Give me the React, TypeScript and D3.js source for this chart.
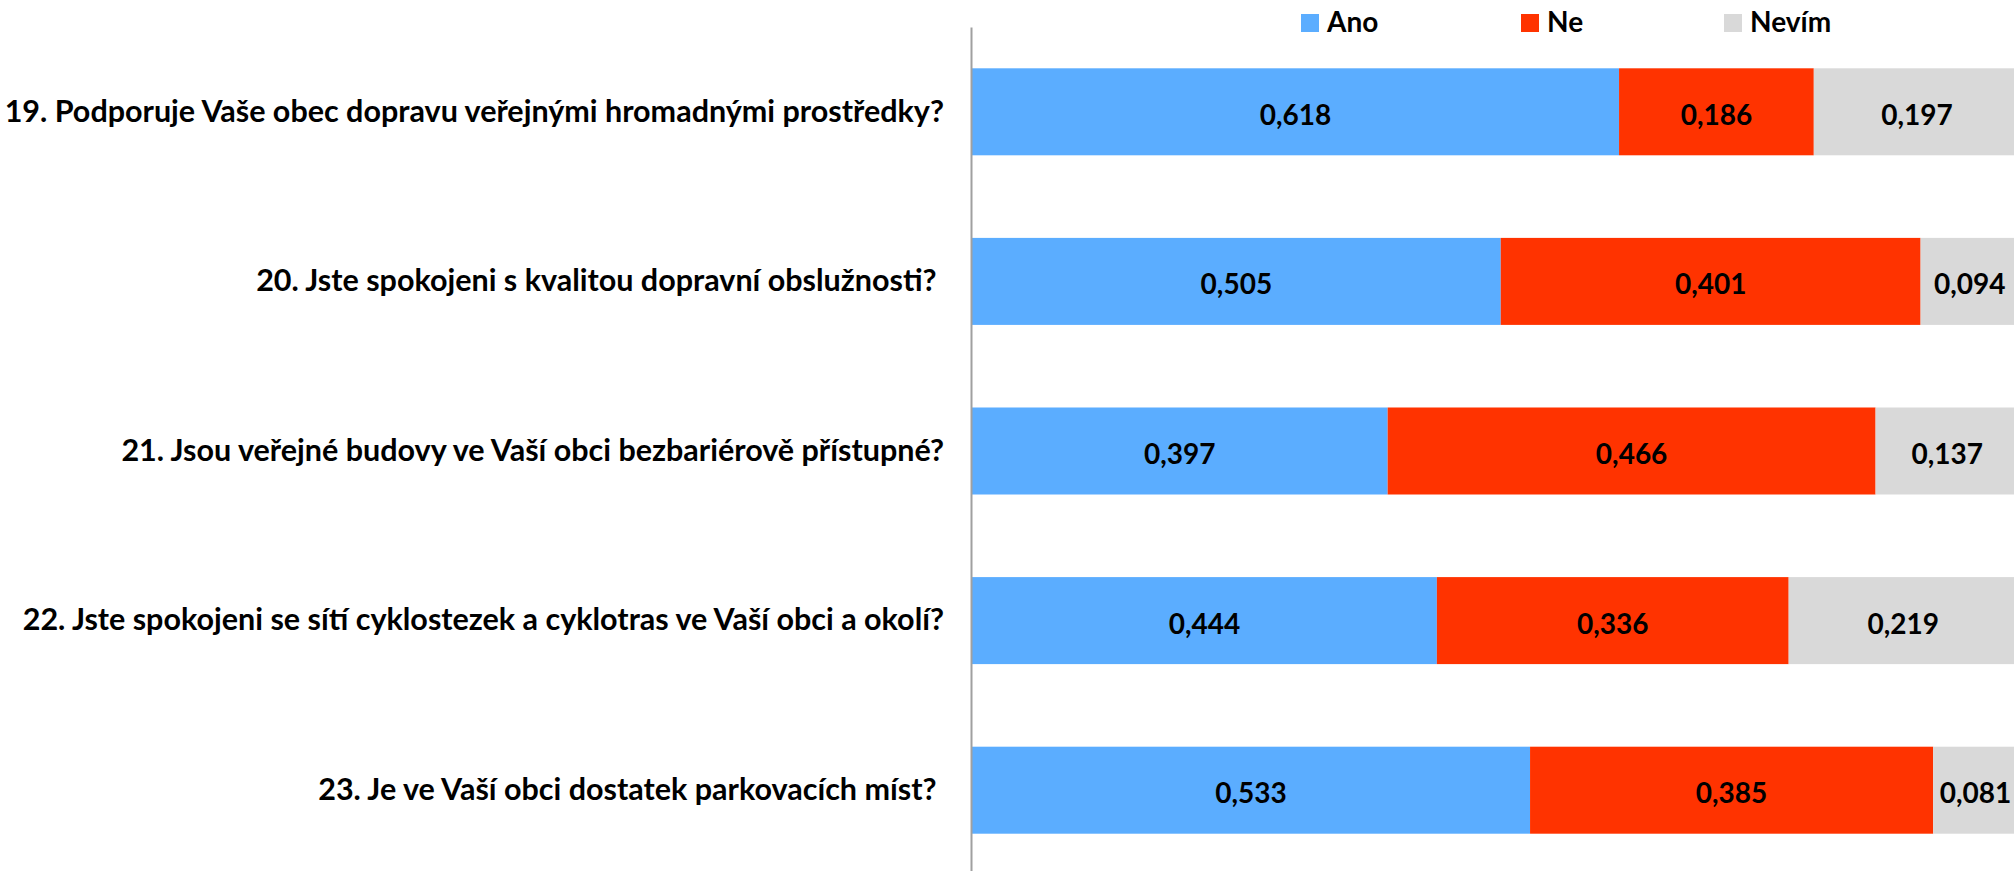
import React, { useRef, useEffect } from 'react';
import * as d3 from 'd3';

const questions = [
  '19. Podporuje Vaše obec dopravu veřejnými hromadnými prostředky?',
  '20. Jste spokojeni s kvalitou dopravní obslužnosti? ',
  '21. Jsou veřejné budovy ve Vaší obci bezbariérově přístupné?',
  '22. Jste spokojeni se sítí cyklostezek a cyklotras ve Vaší obci a okolí?',
  '23. Je ve Vaší obci dostatek parkovacích míst? ',
];
const seriesNames = ['Ano', 'Ne', 'Nevím'];
const ano = [0.618, 0.505, 0.397, 0.444, 0.533];
const ne = [0.186, 0.401, 0.466, 0.336, 0.385];
const nevim = [0.197, 0.094, 0.137, 0.219, 0.081];
const colors = ['#5badff', '#ff3300', '#d9d9d9'];

const FONT = 'Lato, "Open Sans", sans-serif';

const App = () => {
  const svgRef = useRef<SVGSVGElement>(null);
  const width = 2014;
  const height = 871;

  useEffect(() => {
    const svg = d3.select(svgRef.current);
    svg.selectAll('*').remove();

    const x = d3.scaleLinear().domain([0, 1]).range([972, 2019]);
    const y = d3.scaleBand()
      .domain(questions)
      .range([27, 875])
      .paddingInner(0.487)
      .paddingOuter(0.2435);

    const rows = questions.map((q, i) => ({ q, values: [ano[i], ne[i], nevim[i]] }));
    const stack = d3.stack<any>().keys(['0', '1', '2']).value((d, k) => d.values[+k]);
    const layers = stack(rows);

    // bars + value labels
    layers.forEach((layer, si) => {
      const g = svg.append('g');
      g.selectAll('rect')
        .data(layer)
        .enter()
        .append('rect')
        .attr('x', d => x(d[0]))
        .attr('y', d => y(d.data.q)!)
        .attr('width', d => x(d[1]) - x(d[0]))
        .attr('height', y.bandwidth())
        .attr('fill', colors[si]);

      g.selectAll('text')
        .data(layer)
        .enter()
        .append('text')
        .attr('x', d => (x(d[0]) + x(d[1])) / 2)
        .attr('y', d => y(d.data.q)! + y.bandwidth() / 2 + 2)
        .attr('text-anchor', 'middle')
        .attr('dominant-baseline', 'central')
        .attr('font-family', FONT)
        .attr('font-weight', 'bold')
        .attr('font-size', '28px')
        .attr('fill', '#000')
        .text(d => d3.format('.3f')(d[1] - d[0]).replace('.', ','));
    });

    // axis with category labels
    const axis = svg.append('g')
      .attr('transform', `translate(${x(0) - 1},0)`)
      .call(d3.axisLeft(y).tickSizeInner(0).tickSizeOuter(0).tickPadding(27));
    axis.select('.domain').attr('stroke', '#a0a0a0').attr('stroke-width', 2);
    axis.selectAll('.tick text')
      .attr('font-family', FONT)
      .attr('font-weight', 'bold')
      .attr('font-size', '30.5px')
      .attr('fill', '#000')
      .attr('dy', '0.32em')
      .style('white-space', 'pre');

    // legend
    const legendX = [1301, 1521, 1724];
    const legend = svg.append('g');
    seriesNames.forEach((name, i) => {
      legend.append('rect')
        .attr('x', legendX[i])
        .attr('y', 14)
        .attr('width', 18)
        .attr('height', 18)
        .attr('fill', colors[i]);
      legend.append('text')
        .attr('x', legendX[i] + 26)
        .attr('y', 32)
        .attr('font-family', FONT)
        .attr('font-weight', 'bold')
        .attr('font-size', '28px')
        .attr('fill', '#000')
        .text(name);
    });
  }, []);

  return (
    <svg
      ref={svgRef}
      width={width}
      height={height}
      style={{ position: 'absolute', left: 0, top: 0, background: '#fff' }}
    />
  );
};

export default App;
